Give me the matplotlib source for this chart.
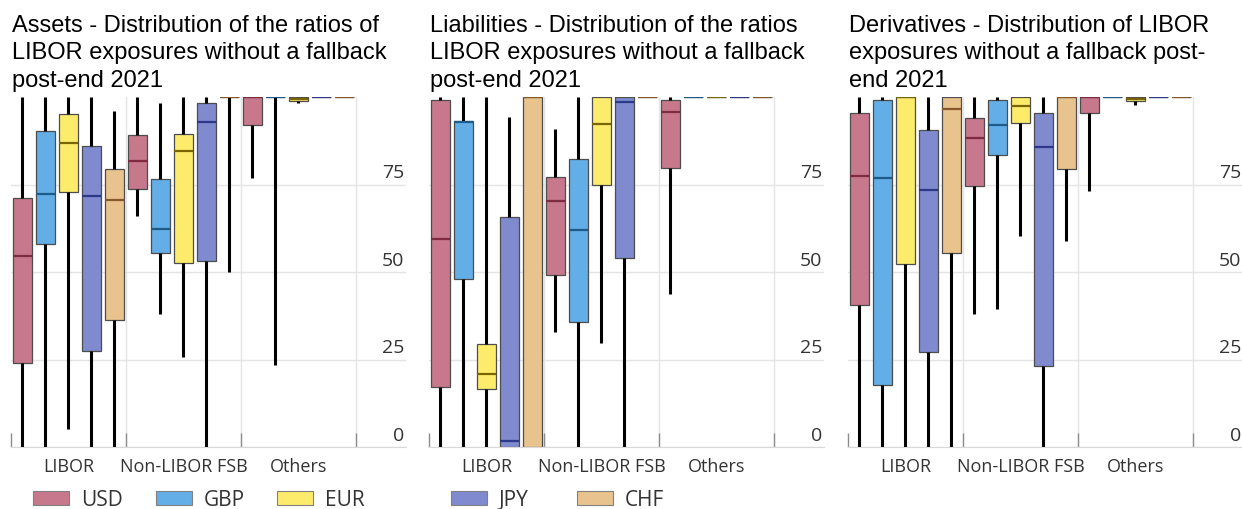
import matplotlib.pyplot as plt
from matplotlib.patches import Patch

# currencies and groups
currencies = ['USD', 'GBP', 'EUR', 'JPY', 'CHF']
groups = ['LIBOR', 'Non-LIBOR FSB', 'Others']

face_colors = ['#C7788C', '#63AEE6', '#FDEC6C', '#7F8ACF', '#E8C38E']
median_colors = ['#7E2A40', '#1D5B8A', '#7A6600', '#2C3888', '#87592A']

# box statistics, one row per currency, columns = LIBOR / Non-LIBOR FSB / Others
assets_lo = [[0, 66, 77], [0, 38, 23.5], [5.2, 25.7, 98.3], [0, 0, 100], [0, 50, 100]]
assets_q1 = [[24, 73.6, 92], [57.9, 55.5, 100], [72.8, 52.6, 99], [27.4, 53.1, 100], [36.4, 100, 100]]
assets_med = [[54.5, 81.7, 100], [72.3, 62.3, 100], [86.9, 84.5, 99.5], [71.7, 93, 100], [70.7, 100, 100]]
assets_q3 = [[71.2, 89.1, 100], [90.4, 76.7, 100], [95.2, 89.3, 100], [86, 98.2, 100], [79.3, 100, 100]]
assets_hi = [[100, 100, 100], [100, 98.2, 100], [100, 100, 100], [100, 100, 100], [96, 100, 100]]

liab_lo = [[0, 32.9, 43.8], [0, 0, 100], [0, 29.6, 100], [0, 0, 100], [0, 100, 100]]
liab_q1 = [[17.1, 49.1, 79.8], [48, 35.7, 100], [16.7, 74.8, 100], [0, 53.9, 100], [0, 100, 100]]
liab_med = [[59.3, 70.2, 95.6], [92.9, 62, 100], [21, 92.4, 100], [1.7, 98.6, 100], [100, 100, 100]]
liab_q3 = [[99.1, 77.2, 99.1], [93.2, 82.4, 100], [29.3, 100, 100], [65.7, 100, 100], [100, 100, 100]]
liab_hi = [[100, 90.9, 100], [100, 100, 100], [100, 100, 100], [94.2, 100, 100], [100, 100, 100]]

deriv_lo = [[0, 38.1, 73.2], [0, 39.3, 100], [0, 60.2, 97.7], [0, 0, 100], [0, 59, 100]]
deriv_q1 = [[40.7, 74.7, 95.4], [17.6, 83.5, 100], [52.4, 92.6, 99], [27.2, 23.2, 100], [55.3, 79.5, 100]]
deriv_med = [[77.4, 88.4, 100], [76.9, 91.9, 100], [100, 97.5, 99.5], [73.3, 85.8, 100], [96.6, 100, 100]]
deriv_q3 = [[95.5, 94, 100], [99.1, 99.1, 100], [100, 100, 100], [90.5, 95.5, 100], [100, 100, 100]]
deriv_hi = [[100, 100, 100], [100, 100, 100], [100, 100, 100], [100, 100, 100], [100, 100, 100]]

titles = [
    ['Assets - Distribution of the ratios of', 'LIBOR exposures without a fallback', 'post-end 2021'],
    ['Liabilities - Distribution of the ratios', 'LIBOR exposures without a fallback', 'post-end 2021'],
    ['Derivatives - Distribution of LIBOR', 'exposures without a fallback post-', 'end 2021'],
]
y_ticks = [0, 25, 50, 75]

panels = [
    (assets_lo, assets_q1, assets_med, assets_q3, assets_hi),
    (liab_lo, liab_q1, liab_med, liab_q3, liab_hi),
    (deriv_lo, deriv_q1, deriv_med, deriv_q3, deriv_hi),
]

W, H = 1242, 509
fig = plt.figure(figsize=(W / 100, H / 100), dpi=100)

offsets = [0.1, 0.3, 0.5, 0.7, 0.9]
lefts = [11, 429, 848]

for p, (lo, q1, med, q3, hi) in enumerate(panels):
    ax = fig.add_axes([lefts[p] / W, (H - 447) / H, 395 / W, 350 / H])
    for c in range(len(currencies)):
        stats = []
        for g in range(len(groups)):
            stats.append(dict(whislo=lo[c][g], q1=q1[c][g], med=med[c][g],
                              q3=q3[c][g], whishi=hi[c][g]))
        ax.bxp(stats, positions=[g + offsets[c] for g in range(len(groups))],
               widths=0.165, patch_artist=True, showcaps=False, showfliers=False,
               boxprops=dict(facecolor=face_colors[c], edgecolor='#4d4d4d', linewidth=0.9),
               medianprops=dict(color=median_colors[c], linewidth=1.6),
               whiskerprops=dict(color='black', linewidth=2.2, solid_capstyle='butt'),
               manage_ticks=False)

    ax.set_xlim(0, 3.435)
    ax.set_ylim(0, 100)

    # group boundaries as ticks and light gridlines
    ax.set_xticks([0, 1, 2, 3])
    ax.set_xticklabels([])
    ax.set_xticks([0.5, 1.5, 2.5], groups, minor=True)
    ax.tick_params(axis='x', which='major', direction='in', length=10,
                   color='#8c8c8c', width=1)
    ax.tick_params(axis='x', which='minor', length=0, pad=8, labelsize=13,
                   labelcolor='#333333')
    for lab in ax.get_xticklabels(minor=True):
        lab.set_fontfamily('Open Sans')
    ax.grid(axis='x', which='major', color='#e4e4e4', linewidth=1)
    ax.get_xgridlines()[0].set_visible(False)

    ax.set_yticks(y_ticks)
    ax.tick_params(axis='y', left=False, labelleft=False)
    ax.grid(axis='y', color='#e4e4e4', linewidth=1)
    ax.set_axisbelow(True)
    for v in y_ticks:
        ax.text(0.995, v + 0.6, str(v), transform=ax.get_yaxis_transform(),
                ha='right', va='bottom', fontsize=14, family='Open Sans',
                color='#333333')

    for side in ['top', 'left', 'right']:
        ax.spines[side].set_visible(False)
    ax.spines['bottom'].set_color('#d9d9d9')

    for i, line in enumerate(titles[p]):
        fig.text((lefts[p] + 1) / W, 1 - [32, 59.5, 87][i] / H, line,
                 ha='left', va='baseline', fontsize=17,
                 family='Liberation Sans', color='black')

# legend entries sit at fixed slots under the first two panels
legend_x = [33, 156, 277, 451, 577]
for c in range(len(currencies)):
    handle = Patch(facecolor=face_colors[c], edgecolor='#808080', linewidth=0.8,
                   label=currencies[c])
    leg = fig.legend(handles=[handle], loc='center left',
                     bbox_to_anchor=(legend_x[c] / W, 1 - 500 / H),
                     frameon=False, borderpad=0, borderaxespad=0,
                     handlelength=1.75, handleheight=0.62, handletextpad=0.55,
                     prop=dict(family='Open Sans', size=15))
    for t in leg.get_texts():
        t.set_color('#333333')

fig.savefig('out.png', dpi=100)
